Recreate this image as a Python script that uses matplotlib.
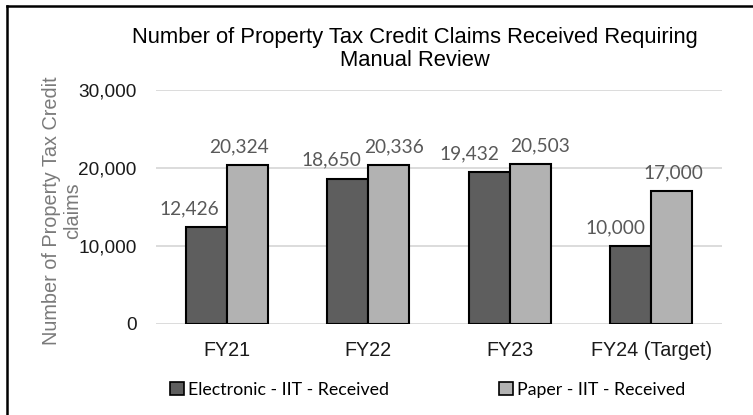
import numpy as np
import matplotlib.pyplot as plt
from matplotlib.lines import Line2D
from matplotlib.patches import Patch

categories = ["FY21", "FY22", "FY23", "FY24 (Target)"]
electronic = [12426, 18650, 19432, 10000]
paper = [20324, 20336, 20503, 17000]
series_names = ["Electronic - IIT - Received", "Paper - IIT - Received"]
yticks = [0, 10000, 20000, 30000]

# horizontal nudges (points) so neighbouring value labels don't collide
elec_shift = [-12, -12, -14, -11]
paper_shift = [-6, 4, 7, 1]

dark = "#5e5e5e"
light = "#b2b2b2"
grid = "#d9d9d9"
label_gray = "#595959"

fig = plt.figure(figsize=(7.53, 4.15), dpi=100)
ax = fig.add_axes([0.2072, 0.2193, 0.7517, 0.5639])

x = np.arange(len(categories))
w = 0.29
ax.bar(x - w/2, electronic, w, color=dark, edgecolor="black", linewidth=1.5, zorder=3)
ax.bar(x + w/2, paper, w, color=light, edgecolor="black", linewidth=1.5, zorder=3)

for xi, v, dx in zip(x - w/2, electronic, elec_shift):
    ax.annotate(f"{v:,}", (xi, v), xytext=(dx, 7), textcoords="offset points",
                ha="center", va="bottom", fontsize=13.8, color=label_gray, family="Lato")
for xi, v, dx in zip(x + w/2, paper, paper_shift):
    ax.annotate(f"{v:,}", (xi, v), xytext=(dx, 7), textcoords="offset points",
                ha="center", va="bottom", fontsize=13.8, color=label_gray, family="Lato")

ax.set_xlim(-0.5, len(categories) - 0.5)
ax.set_ylim(0, 30000)
ax.set_yticks(yticks)
ax.set_yticklabels([f"{t:,}" for t in yticks], fontsize=13.7, family="Liberation Sans",
                   color="#1a1a1a")
ax.set_xticks(x)
ax.set_xticklabels(categories, fontsize=14.2, family="Liberation Sans", color="#1a1a1a")
ax.tick_params(axis="y", length=0, pad=14)
ax.tick_params(axis="x", length=0, pad=12)
ax.yaxis.grid(True, color=grid, linewidth=1.3, zorder=0)
for s in ax.spines.values():
    s.set_visible(False)

fig.text(62 / 753, 1 - 211 / 415, "Number of Property Tax Credit\nclaims", rotation=90,
         ha="center", va="center", fontsize=14.3, color="#7a7a7a",
         family="Liberation Sans", linespacing=1.1)

fig.text(0.551, 0.882, "Number of Property Tax Credit Claims Received Requiring\nManual Review",
         ha="center", va="center", fontsize=15.8, family="Liberation Sans", linespacing=1.15)

handles = [Patch(facecolor=dark, edgecolor="black", linewidth=1.2),
           Patch(facecolor=light, edgecolor="black", linewidth=1.2)]
fig.legend(handles, series_names, loc="center", bbox_to_anchor=(0.568, 0.06),
           ncol=2, frameon=False, prop={"family": "Lato", "size": 12.8},
           handlelength=0.75, handleheight=0.75, handletextpad=0.25, columnspacing=6.2)

# frame around the chart (only top and left edges fall inside the image)
fig.add_artist(Line2D([0.0093, 0.0093], [0, 0.986], transform=fig.transFigure, color="black", linewidth=1.8))
fig.add_artist(Line2D([0.0093, 1.0], [0.986, 0.986], transform=fig.transFigure, color="black", linewidth=1.8))

fig.savefig("out.png", dpi=100)
